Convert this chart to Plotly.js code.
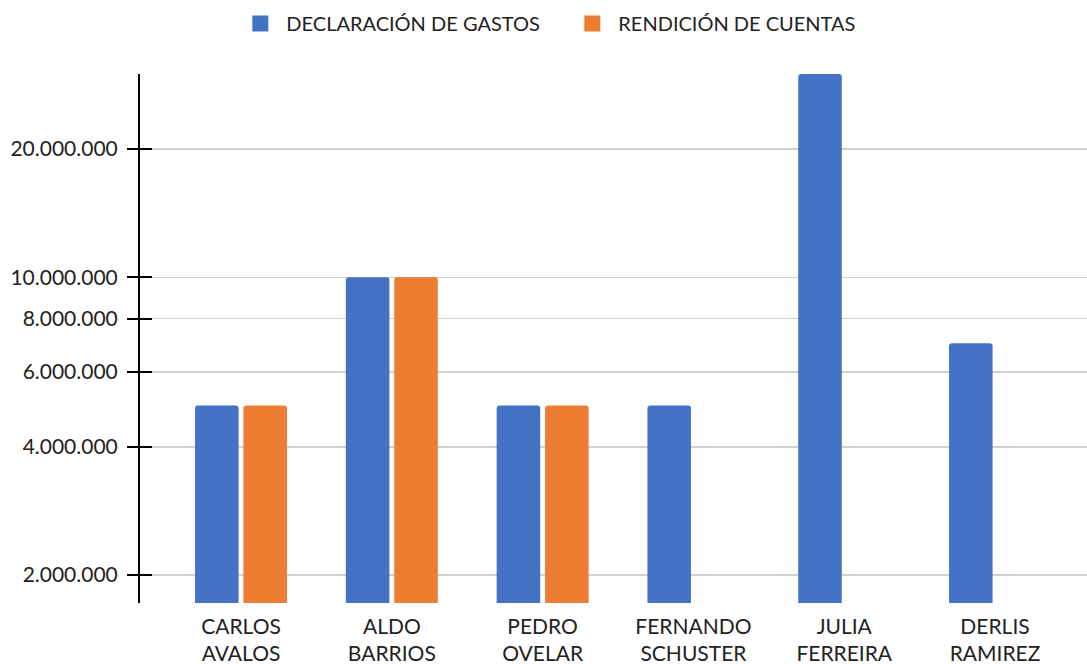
<!DOCTYPE html>
<html>
<head>
<meta charset="utf-8">
<script src="https://cdn.plot.ly/plotly-3.0.1.min.js"></script>
<style>html,body{margin:0;padding:0;background:#fff;}#chart{width:1087px;height:664px;}</style>
</head>
<body>
<div id="chart"></div>
<script>
const categories = ["CARLOS AVALOS", "ALDO BARRIOS", "PEDRO OVELAR", "FERNANDO SCHUSTER", "JULIA FERREIRA", "DERLIS RAMIREZ"];
const declaracionGastos = [5000000, 10000000, 5000000, 5000000, 30000000, 7000000];
const rendicionCuentas = [5000000, 10000000, 5000000, null, null, null];
const seriesNames = ["DECLARACIÓN DE GASTOS", "RENDICIÓN DE CUENTAS"];
const seriesColors = ["#4472C4", "#ED7D31"];
const tickValues = [2000000, 4000000, 6000000, 8000000, 10000000, 20000000];
const tickLabels = ["2.000.000", "4.000.000", "6.000.000", "8.000.000", "10.000.000", "20.000.000"];

const yRange = [Math.log10(1720000), Math.log10(30000000)];
const fontFam = "Lato, 'Open Sans', sans-serif";

const traces = [
  {type: "bar", name: seriesNames[0], x: categories, y: declaracionGastos, showlegend: false,
   marker: {color: seriesColors[0], cornerradius: 3}, hoverinfo: "none"},
  {type: "bar", name: seriesNames[1], x: categories, y: rendicionCuentas, showlegend: false,
   marker: {color: seriesColors[1], cornerradius: 3}, hoverinfo: "none"},
  // legend entries with larger square swatches
  {type: "scatter", mode: "markers", name: seriesNames[0], x: [null], y: [null],
   marker: {symbol: "square", size: 16, color: seriesColors[0]}, hoverinfo: "none"},
  {type: "scatter", mode: "markers", name: seriesNames[1], x: [null], y: [null],
   marker: {symbol: "square", size: 16, color: seriesColors[1]}, hoverinfo: "none"},
  // carrier for the overlay axis that draws the inner half of the tick marks
  {type: "scatter", mode: "markers", x: [null], y: [null], yaxis: "y2", showlegend: false, hoverinfo: "none"}
];

const layout = {
  width: 1087, height: 664,
  margin: {l: 140, r: 0, t: 74, b: 61},
  paper_bgcolor: "#fff", plot_bgcolor: "#fff",
  font: {family: fontFam, size: 20, color: "#222"},
  barmode: "group", bargap: 0.358, bargroupgap: 0.1,
  showlegend: true,
  legend: {orientation: "h", x: 0.521, xref: "container", xanchor: "center", y: 0.994, yref: "container", yanchor: "top",
           font: {family: fontFam, size: 20, color: "#222"}, itemsizing: "trace", itemwidth: 42, entrywidth: 275},
  xaxis: {type: "category", range: [-0.67, 5.61], showline: false, ticks: "", showgrid: false, zeroline: false,
          tickvals: categories, ticktext: categories.map(c => c.replace(" ", "<br>")), ticklabelstandoff: 9,
          tickfont: {family: fontFam, size: 21, color: "#222"}},
  yaxis: {type: "log", range: yRange, tickvals: tickValues, ticktext: tickLabels,
          showline: true, linecolor: "#000", linewidth: 2,
          ticks: "outside", ticklen: 11, tickwidth: 2, tickcolor: "#000", ticklabelstandoff: 5,
          showgrid: true, gridcolor: "#d0d0d0", gridwidth: 1.5, zeroline: false,
          tickfont: {family: fontFam, size: 21, color: "#222"}},
  yaxis2: {type: "log", range: yRange, overlaying: "y", side: "left", tickvals: tickValues, showticklabels: false,
           ticks: "inside", ticklen: 12, tickwidth: 2, tickcolor: "#000", showgrid: false, showline: false, zeroline: false}
};

Plotly.newPlot("chart", traces, layout, {displayModeBar: false, staticPlot: true});
</script>
</body>
</html>
